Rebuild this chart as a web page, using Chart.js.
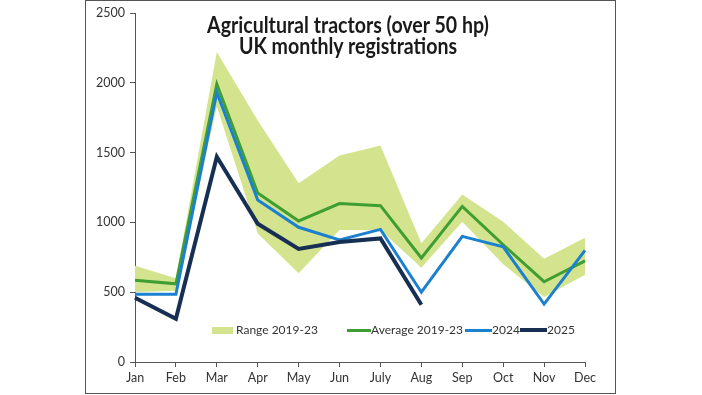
<!DOCTYPE html>
<html><head><meta charset="utf-8">
<script src="https://cdn.jsdelivr.net/npm/chart.js@4/dist/chart.umd.min.js"></script>
<style>
html,body{margin:0;padding:0;background:#fff;}
#wrap{position:relative;width:702px;height:395px;overflow:hidden;}
#frame{position:absolute;left:85px;top:0px;width:529px;height:392px;border:1px solid #555;box-sizing:content-box;}
.tl{position:absolute;left:148px;width:400px;text-align:center;font-family:Lato,sans-serif;font-weight:bold;font-size:22px;line-height:21.5px;color:#1a1a1a;transform:scaleX(0.89);transform-origin:200px 50%;white-space:nowrap;}
#legend{position:absolute;top:0;left:0;font-family:Lato,sans-serif;font-size:12px;color:#333;white-space:nowrap;}
#legend span.it{position:absolute;top:321px;line-height:18px;}
.sw{position:absolute;}
</style>
</head><body>
<div id="wrap">
<div id="frame"></div>
<canvas id="c" width="702" height="395"></canvas>
<div class="tl" style="top:13.5px">Agricultural tractors (over 50 hp)</div>
<div class="tl" style="top:35px">UK monthly registrations</div>
<div id="legend"></div>
</div>
<script>
const months = ['Jan','Feb','Mar','Apr','May','Jun','July','Aug','Sep','Oct','Nov','Dec'];
const rangeHigh = [690, 600, 2220, 1730, 1280, 1480, 1550, 850, 1200, 1005, 740, 890];
const rangeLow  = [500, 510, 1830, 920, 635, 945, 945, 675, 1005, 700, 465, 625];
const avg2019_23 = [585, 560, 1990, 1210, 1010, 1135, 1120, 745, 1115, 840, 575, 725];
const y2024 = [485, 485, 1930, 1160, 965, 875, 950, 500, 900, 825, 415, 800];
const y2025 = [460, 310, 1470, 990, 810, 860, 885, 410, null, null, null, null];
const yTicks = [0, 500, 1000, 1500, 2000, 2500];

const cBand = '#d4e48e', cAvg = '#3f9e32', c24 = '#1b80cf', c25 = '#172f52';

new Chart(document.getElementById('c'), {
  type: 'line',
  data: {
    labels: months,
    datasets: [
      {label:'Range 2019-23', data: rangeHigh, borderWidth:0, pointRadius:0, backgroundColor:cBand, borderColor:cBand, fill:'+1', tension:0, order:5},
      {label:'_low', data: rangeLow, borderWidth:0, pointRadius:0, backgroundColor:cBand, borderColor:cBand, fill:false, tension:0, order:6},
      {label:'Average 2019-23', data: avg2019_23, borderColor:cAvg, borderWidth:3, pointRadius:0, fill:false, tension:0, order:3},
      {label:'2024', data: y2024, borderColor:c24, borderWidth:3, pointRadius:0, fill:false, tension:0, order:2},
      {label:'2025', data: y2025, borderColor:c25, borderWidth:4, pointRadius:0, fill:false, tension:0, order:1, spanGaps:false}
    ]
  },
  options: {
    responsive:false, animation:false,
    layout:{padding:{left:0,right:117,top:13,bottom:0}},
    plugins:{legend:{display:false}, title:{display:false}, tooltip:{enabled:false}},
    elements:{line:{borderJoinStyle:'miter', borderCapStyle:'butt'}},
    scales:{
      x:{
        offset:false,
        grid:{drawOnChartArea:false, tickLength:5, color:'#555', lineWidth:1},
        border:{display:true, color:'#555', width:1},
        ticks:{color:'#333', font:{family:'Lato', size:12.5}, padding:3, maxRotation:0, autoSkip:false},
        afterFit: s => { s.height = 33; }
      },
      y:{
        min:0, max:2500,
        afterBuildTicks: s => { s.ticks = yTicks.map(v => ({value:v})); },
        grid:{drawOnChartArea:false, tickLength:5, color:'#555', lineWidth:1},
        border:{display:true, color:'#555', width:1},
        ticks:{color:'#333', font:{family:'Lato', size:12.5}, padding:5, callback: v => String(v)},
        afterFit: s => { s.width = 135; }
      }
    }
  }
});

// legend
const leg = document.getElementById('legend');
const items = [
  {t:'Range 2019-23', type:'box', c:cBand, sx:212, ex:233, tx:236},
  {t:'Average 2019-23', type:'line', c:cAvg, w:3, sx:347, ex:371, tx:371},
  {t:'2024', type:'line', c:c24, w:3, sx:465, ex:492, tx:492},
  {t:'2025', type:'line', c:c25, w:4, sx:520, ex:547, tx:547}
];
items.forEach(it => {
  const sw = document.createElement('div');
  sw.className = 'sw';
  if (it.type === 'box') {
    Object.assign(sw.style, {left: it.sx+'px', top:'327px', width:(it.ex-it.sx)+'px', height:'7px', background: it.c});
  } else {
    Object.assign(sw.style, {left: it.sx+'px', top:(330 - it.w/2)+'px', width:(it.ex - it.sx)+'px', height: it.w+'px', background: it.c});
  }
  leg.appendChild(sw);
  const s = document.createElement('span');
  s.className = 'it'; s.style.left = it.tx+'px'; s.textContent = it.t;
  leg.appendChild(s);
});
</script>
</body></html>
